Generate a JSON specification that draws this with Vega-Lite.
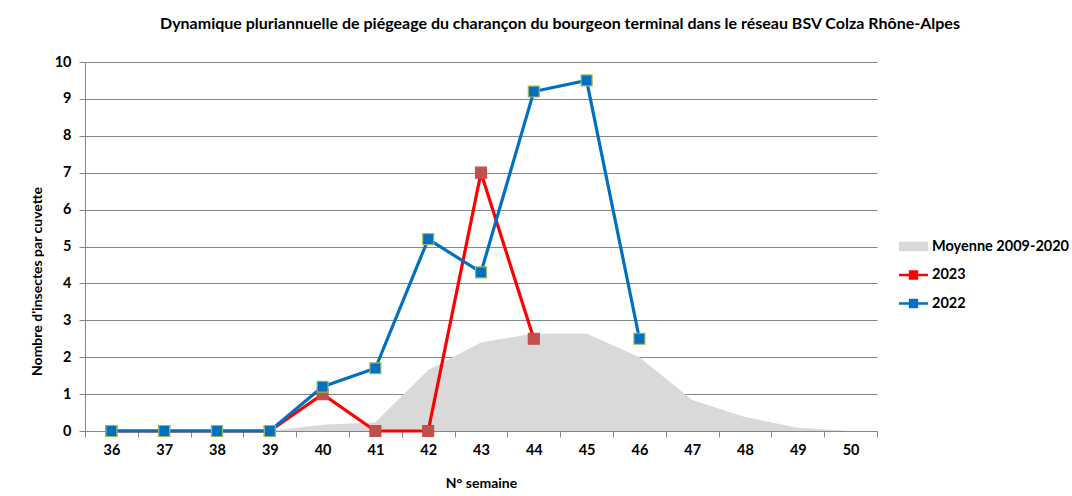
{
  "$schema": "https://vega.github.io/schema/vega-lite/v6.json",
  "autosize": {"type": "none"},
  "padding": {"left": 85, "top": 62, "right": 195, "bottom": 65},
  "width": 792,
  "height": 369,
  "background": "white",
  "title": {
    "text": "Dynamique pluriannuelle de piégeage du charançon  du bourgeon terminal dans le réseau BSV Colza Rhône-Alpes",
    "anchor": "middle",
    "frame": "group",
    "dx": 79,
    "offset": 22,
    "font": "Lato",
    "fontSize": 16,
    "fontWeight": "bold",
    "color": "#000000"
  },
  "config": {
    "font": "Lato",
    "view": {"stroke": null},
    "axis": {
      "labelFont": "Lato",
      "labelFontSize": 14.5,
      "labelFontWeight": "bold",
      "labelColor": "#000000",
      "titleFont": "Lato",
      "titleFontSize": 14,
      "titleFontWeight": "bold",
      "titleColor": "#000000",
      "domainColor": "#868686",
      "tickColor": "#868686",
      "gridColor": "#868686"
    },
    "legend": {
      "labelFont": "Lato",
      "labelFontSize": 14.5,
      "labelFontWeight": "bold",
      "labelColor": "#000000"
    }
  },
  "data": {
    "values": [
      {"week": 36, "series": "Moyenne 2009-2020", "value": 0},
      {"week": 37, "series": "Moyenne 2009-2020", "value": 0},
      {"week": 38, "series": "Moyenne 2009-2020", "value": 0},
      {"week": 39, "series": "Moyenne 2009-2020", "value": 0},
      {"week": 40, "series": "Moyenne 2009-2020", "value": 0.17},
      {"week": 41, "series": "Moyenne 2009-2020", "value": 0.24},
      {"week": 42, "series": "Moyenne 2009-2020", "value": 1.65},
      {"week": 43, "series": "Moyenne 2009-2020", "value": 2.4},
      {"week": 44, "series": "Moyenne 2009-2020", "value": 2.64},
      {"week": 45, "series": "Moyenne 2009-2020", "value": 2.64},
      {"week": 46, "series": "Moyenne 2009-2020", "value": 2.0},
      {"week": 47, "series": "Moyenne 2009-2020", "value": 0.84},
      {"week": 48, "series": "Moyenne 2009-2020", "value": 0.38},
      {"week": 49, "series": "Moyenne 2009-2020", "value": 0.09},
      {"week": 50, "series": "Moyenne 2009-2020", "value": 0},
      {"week": 36, "series": "2023", "value": 0},
      {"week": 37, "series": "2023", "value": 0},
      {"week": 38, "series": "2023", "value": 0},
      {"week": 39, "series": "2023", "value": 0},
      {"week": 40, "series": "2023", "value": 1},
      {"week": 41, "series": "2023", "value": 0},
      {"week": 42, "series": "2023", "value": 0},
      {"week": 43, "series": "2023", "value": 7},
      {"week": 44, "series": "2023", "value": 2.5},
      {"week": 36, "series": "2022", "value": 0},
      {"week": 37, "series": "2022", "value": 0},
      {"week": 38, "series": "2022", "value": 0},
      {"week": 39, "series": "2022", "value": 0},
      {"week": 40, "series": "2022", "value": 1.2},
      {"week": 41, "series": "2022", "value": 1.7},
      {"week": 42, "series": "2022", "value": 5.2},
      {"week": 43, "series": "2022", "value": 4.3},
      {"week": 44, "series": "2022", "value": 9.2},
      {"week": 45, "series": "2022", "value": 9.5},
      {"week": 46, "series": "2022", "value": 2.5}
    ]
  },
  "encoding": {
    "x": {
      "field": "week",
      "type": "ordinal",
      "bandPosition": 0.5,
      "scale": {"type": "band", "paddingInner": 0, "paddingOuter": 0, "domain": [36,37,38,39,40,41,42,43,44,45,46,47,48,49,50]},
      "axis": {
        "title": "N° semaine",
        "labelAngle": 0,
        "tickBand": "extent",
        "tickSize": 6,
        "labelPadding": 6,
        "titlePadding": 20,
        "grid": false
      }
    },
    "y": {
      "field": "value",
      "type": "quantitative",
      "scale": {"domain": [0, 10], "nice": false},
      "axis": {
        "title": "Nombre d'insectes par cuvette",
        "values": [0,1,2,3,4,5,6,7,8,9,10],
        "labelOverlap": false,
        "tickSize": 6,
        "labelPadding": 8,
        "titleX": -48,
        "titleY": 219,
        "titleAngle": -90,
        "titleAlign": "center",
        "titleBaseline": "middle",
        "grid": true
      }
    },
    "color": {
      "field": "series",
      "type": "nominal",
      "scale": {
        "domain": ["Moyenne 2009-2020", "2023", "2022"],
        "range": ["#d9d9d9", "#ff0000", "#0070c0"]
      },
      "legend": {
        "title": null,
        "orient": "none",
        "legendX": 814,
        "legendY": 170,
        "symbolSize": 841,
        "rowPadding": 7.5,
        "labelOffset": 4,
        "encode": {
          "symbols": {
            "update": {
              "shape": {"signal": "datum.value == 'Moyenne 2009-2020' ? 'M-1,-0.33H1V0.33H-1Z' : 'M-1,-0.09H-0.32V-0.32H0.32V-0.09H1V0.09H0.32V0.32H-0.32V0.09H-1Z'"},
              "strokeWidth": {"value": 0}
            }
          }
        }
      }
    }
  },
  "layer": [
    {
      "transform": [{"filter": "datum.series == 'Moyenne 2009-2020'"}],
      "mark": {"type": "area", "opacity": 1}
    },
    {
      "transform": [{"filter": "datum.series != 'Moyenne 2009-2020'"}],
      "mark": {"type": "line", "strokeWidth": 3.2}
    },
    {
      "transform": [{"filter": "datum.series != 'Moyenne 2009-2020'"}],
      "mark": {"type": "point", "shape": "square", "filled": true, "size": 120, "opacity": 1, "strokeWidth": 1.2},
      "encoding": {
        "fill": {
          "condition": {"test": "datum.series == '2023'", "value": "#c0504d"},
          "value": "#0070c0"
        },
        "stroke": {
          "condition": {"test": "datum.series == '2022'", "value": "#9bbb59"},
          "value": "#c0504d"
        }
      }
    }
  ]
}
